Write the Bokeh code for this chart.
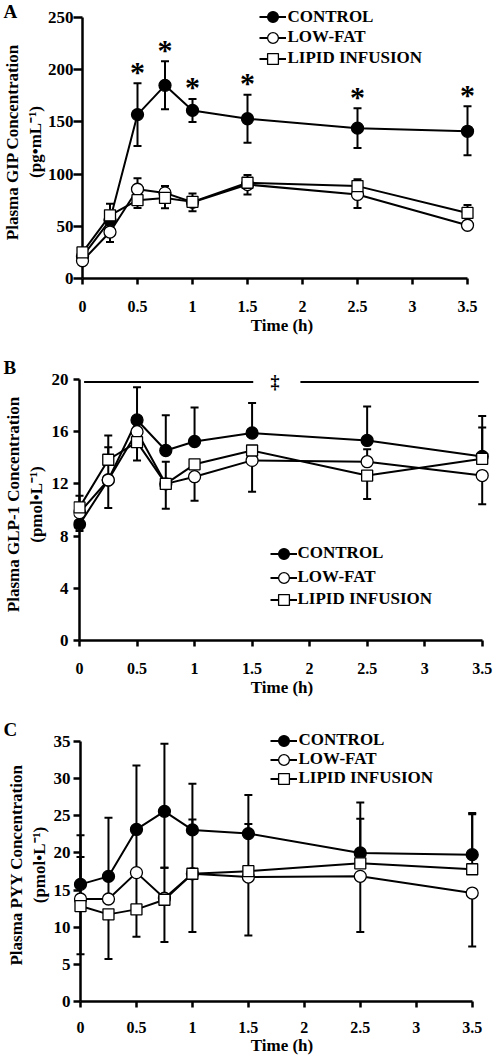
from bokeh.plotting import figure
from bokeh.layouts import column
from bokeh.models import (ColumnDataSource, Whisker, TeeHead, Label, Legend, LegendItem,
                          FixedTicker, CustomJSTickFormatter, Range1d, Title)
from bokeh.core.properties import value
from bokeh.embed import file_html
from bokeh.resources import INLINE

FONT = "Liberation Serif"

# ---------------- data ----------------
time_h = [0, 0.25, 0.5, 0.75, 1, 1.5, 2.5, 3.5]
x_ticks = [0, 0.5, 1, 1.5, 2, 2.5, 3, 3.5]
series_names = ["CONTROL", "LOW-FAT", "LIPID INFUSION"]

# Panel A: GIP (pg/mL)
gip_control = [21, 56, 157, 185, 161, 153, 144, 141]
gip_control_up = [0, 0, 30, 23, 11, 23, 19, 24]
gip_control_dn = [0, 0, 30, 23, 11, 23, 19, 23]
gip_lowfat = [17, 44.5, 85.5, 82, 73, 90, 80.5, 51]
gip_lowfat_up = [0, 0, 10.5, 6.5, 0, 0, 0, 0]
gip_lowfat_dn = [0, 9.5, 0, 0, 8.5, 9.5, 13, 0]
gip_lipid = [25, 60.5, 75, 77.2, 73.4, 91.7, 88.5, 62.8]
gip_lipid_up = [0, 11, 0, 0, 8, 7.5, 6.5, 7.5]
gip_lipid_dn = [0, 0, 7.5, 10, 0, 0, 0, 0]
gip_sig_times = [0.5, 0.75, 1, 1.5, 2.5, 3.5]
gip_yticks = [0, 50, 100, 150, 200, 250]

# Panel B: GLP-1 (pmol/L)
glp_control = [8.9, 12.3, 16.9, 14.56, 15.25, 15.9, 15.33, 14.1]
glp_control_up = [0, 2.5, 2.5, 2.7, 2.6, 2.3, 2.6, 3.1]
glp_control_dn = [0.5, 0, 0, 0, 0, 0, 0, 0]
glp_lowfat = [9.8, 12.3, 16.0, 12.0, 12.55, 13.8, 13.7, 12.64]
glp_lowfat_up = [0, 0, 0, 1.7, 0, 0, 0.95, 0]
glp_lowfat_dn = [0, 2.15, 0, 0, 1.85, 2.4, 0, 2.2]
glp_lipid = [10.2, 13.85, 15.2, 12.0, 13.5, 14.56, 12.64, 13.92]
glp_lipid_up = [0.9, 1.85, 0, 0, 0, 0, 0, 2.4]
glp_lipid_dn = [0, 0, 1.4, 1.9, 0, 0, 1.8, 0]
glp_sig_x0 = [0.04, 1.92]
glp_sig_x1 = [1.51, 3.47]
glp_sig_level = 19.8
glp_sig_mark_x = 1.70
glp_yticks = [0, 4, 8, 12, 16, 20]

# Panel C: PYY (pmol/L)
pyy_control = [15.77, 16.84, 23.16, 25.6, 23.1, 22.6, 20.0, 19.77]
pyy_control_up = [6.6, 7.9, 8.6, 9.1, 6.2, 5.2, 6.8, 5.6]
pyy_control_dn = [0, 0, 5.8, 7.6, 0, 0, 0, 0]
pyy_lowfat = [13.8, 13.8, 17.35, 13.9, 17.2, 16.75, 16.85, 14.6]
pyy_lowfat_up = [0, 3.0, 0, 0, 0, 0, 0, 0]
pyy_lowfat_dn = [7.45, 0, 8.65, 0, 7.85, 7.85, 7.5, 7.2]
pyy_lipid = [12.85, 11.73, 12.4, 13.7, 17.2, 17.55, 18.6, 17.8]
pyy_lipid_up = [6.6, 0, 0, 4.3, 7.3, 6.35, 6.0, 7.4]
pyy_lipid_dn = [0, 6.0, 0, 5.7, 0, 0, 0, 0]
pyy_yticks = [0, 5, 10, 15, 20, 25, 30, 35]

PAGE_W = 494
FRAME_L, FRAME_R = 73, 490   # shared by the three stacked panels


def make_panel(cfg):
    W, H = PAGE_W, cfg["height"]
    ftop, y0px, ymaxpx = cfg["frame_top"], cfg["y0_px"], cfg["ymax_px"]
    ax0, ax35 = cfg["x0_px"], cfg["x35_px"]
    fl, fr = FRAME_L, FRAME_R
    figtop = cfg["fig_top"]
    bl, br = fl, PAGE_W - fr
    bt, bb = ftop - figtop, figtop + H - y0px
    ymax = cfg["yticks"][-1]
    ys = (y0px - ymaxpx) / ymax
    kx = (ax35 - ax0) / 3.5
    pad = ax0 - fl

    p = figure(width=W, height=H, output_backend="svg", toolbar_location=None,
               min_border_left=bl, min_border_right=br, min_border_top=bt, min_border_bottom=bb,
               x_range=Range1d((fl - ax0) / kx, 3.5 + (fr - ax35) / kx),
               y_range=Range1d(0, (y0px - ftop) / ys))
    p.outline_line_color = None
    p.xgrid.grid_line_color = None
    p.ygrid.grid_line_color = None
    p.background_fill_color = "white"
    p.border_fill_color = "white"

    # panel letter as title
    t = Title(text=cfg["letter"], align="left", offset=-bl + cfg["letter_x"], text_font=FONT,
              text_font_style="bold", text_font_size="19px", text_color="black")
    try:
        t.standoff = cfg["letter_standoff"]
    except Exception:
        t.standoff = 0
    p.title = t
    p.title_location = "above"

    # x axis
    xa = p.xaxis[0]
    xa.ticker = FixedTicker(ticks=x_ticks)
    xa.formatter = CustomJSTickFormatter(code="return tick.toString();")
    xa.bounds = (0, 3.5)
    xa.axis_line_width = 2.5
    xa.axis_line_color = "black"
    xa.major_tick_line_width = 2.5
    xa.major_tick_out = 6
    xa.major_tick_in = 0
    xa.minor_tick_line_color = None
    xa.major_label_standoff = cfg["xlab_standoff"]
    xa.major_label_text_font = FONT
    xa.major_label_text_font_style = "bold"
    xa.major_label_text_font_size = "16px"
    xa.major_label_text_color = "black"
    xa.axis_label = "Time (h)"
    xa.axis_label_standoff = cfg["xtitle_standoff"]
    xa.axis_label_text_font = FONT
    xa.axis_label_text_font_style = "bold"
    xa.axis_label_text_font_size = "17px"
    xa.axis_label_text_color = "black"

    # y axis: line drawn at x=0, ticks reach from the frame edge to x=0
    ya = p.yaxis[0]
    ya.ticker = FixedTicker(ticks=cfg["yticks"])
    ya.axis_line_color = None
    ya.major_tick_in = pad
    ya.major_tick_out = 0
    ya.major_tick_line_width = 2.5
    ya.minor_tick_line_color = None
    ya.major_label_standoff = cfg["ylab_standoff"]
    ya.major_label_text_font = FONT
    ya.major_label_text_font_style = "bold"
    ya.major_label_text_font_size = "17px"
    ya.major_label_text_color = "black"
    ya.axis_label = cfg["ytitle"]
    ya.axis_label_standoff = cfg["ytitle_standoff"]
    ya.axis_label_text_font = FONT
    ya.axis_label_text_font_style = "bold"
    ya.axis_label_text_font_size = "17px"
    ya.axis_label_text_line_height = 1.2
    ya.axis_label_text_color = "black"
    p.segment(x0=[0], y0=[0], x1=[0], y1=[ymax], line_color="black", line_width=2.5)

    # series
    renderers = []
    for (y, up, dn), marker, fill in zip(cfg["series"], ["circle", "circle", "square"],
                                          ["black", "white", "white"]):
        src = ColumnDataSource(dict(x=time_h, y=y,
                                    hi=[a + b for a, b in zip(y, up)],
                                    lo=[a - b for a, b in zip(y, dn)]))
        w = Whisker(source=src, base="x", upper="hi", lower="lo", dimension="height",
                    line_color="black", line_width=2, level="underlay",
                    upper_head=TeeHead(size=8, line_width=2, line_color="black"),
                    lower_head=TeeHead(size=8, line_width=2, line_color="black"))
        p.add_layout(w)
        lr = p.line("x", "y", source=src, line_color="black", line_width=2)
        sr = p.scatter("x", "y", source=src, marker=marker, size=12 if marker == "circle" else 11,
                       fill_color=fill, line_color="black", line_width=1.3)
        renderers.append((lr, sr))

    # legend: one single-row legend per series, placed at the reference row centres
    gl, rows, lso = cfg["legend"]
    gh = 27
    for n, r, rc in zip(series_names, renderers, rows):
        lg = Legend(items=[LegendItem(label=n, renderers=list(r))],
                    location=(gl - fl, y0px - (rc + gh / 2)), orientation="vertical",
                    glyph_width=27, glyph_height=gh, label_height=20, label_standoff=lso, spacing=0,
                    padding=0, margin=0, border_line_color=None, background_fill_alpha=0,
                    label_text_font=FONT, label_text_font_style="bold", label_text_font_size="17px",
                    label_text_color="black")
        p.add_layout(lg)
    return p, ys


# ---------- Panel A ----------
pA, ysA = make_panel(dict(
    fig_top=0, height=340, frame_top=5, y0_px=278, ymax_px=17, x0_px=82, x35_px=467,
    yticks=gip_yticks,
    series=[(gip_control, gip_control_up, gip_control_dn),
            (gip_lowfat, gip_lowfat_up, gip_lowfat_dn),
            (gip_lipid, gip_lipid_up, gip_lipid_dn)],
    legend=(258.5, [16.7, 37.3, 58.3], 2),
    ytitle="Plasma GIP Concentration\n(pg\u2022mL\u207b\u00b9)", ylab_standoff=0, ytitle_standoff=0,
    xlab_standoff=16, xtitle_standoff=1, letter="A", letter_x=3, letter_standoff=-32))
# significance asterisks above the control error bars
ast_x = list(gip_sig_times)
ast_y = [gip_control[time_h.index(t)] + gip_control_up[time_h.index(t)] + 12 / ysA
         for t in gip_sig_times]
pA.text(x=ast_x, y=ast_y, text=["*"] * len(ast_x), text_font=value(FONT), text_font_style="bold",
        text_font_size="30px", text_align="center", text_baseline="middle", text_color="black")

# ---------- Panel B ----------
pB, ysB = make_panel(dict(
    fig_top=340, height=360, frame_top=368, y0_px=640, ymax_px=379, x0_px=79, x35_px=481.7,
    yticks=glp_yticks,
    series=[(glp_control, glp_control_up, glp_control_dn),
            (glp_lowfat, glp_lowfat_up, glp_lowfat_dn),
            (glp_lipid, glp_lipid_up, glp_lipid_dn)],
    legend=(269.5, [553, 577, 599], 1),
    ytitle="Plasma GLP-1 Concentration\n(pmol\u2022L\u207b\u00b9)", ylab_standoff=5, ytitle_standoff=3,
    xlab_standoff=16, xtitle_standoff=1, letter="B", letter_x=3, letter_standoff=-18))
pB.segment(x0=glp_sig_x0, y0=[glp_sig_level] * 2, x1=glp_sig_x1, y1=[glp_sig_level] * 2,
           line_color="black", line_width=2)
pB.add_layout(Label(x=glp_sig_mark_x, y=glp_sig_level, text="\u2021", text_align="center",
                    text_baseline="middle", text_font=FONT, text_font_style="bold",
                    text_font_size="18px", text_color="black"))

# ---------- Panel C ----------
pC, ysC = make_panel(dict(
    fig_top=700, height=358, frame_top=728, y0_px=1001, ymax_px=741, x0_px=80, x35_px=471.7,
    yticks=pyy_yticks,
    series=[(pyy_control, pyy_control_up, pyy_control_dn),
            (pyy_lowfat, pyy_lowfat_up, pyy_lowfat_dn),
            (pyy_lipid, pyy_lipid_up, pyy_lipid_dn)],
    legend=(269.5, [740, 759, 778], 2),
    ytitle="Plasma PYY Concentration\n(pmol\u2022L\u207b\u00b9)", ylab_standoff=3, ytitle_standoff=2,
    xlab_standoff=14, xtitle_standoff=0, letter="C", letter_x=3, letter_standoff=-22))

layout = column(pA, pB, pC, spacing=0)
open("out.html", "w").write(file_html(layout, INLINE))
